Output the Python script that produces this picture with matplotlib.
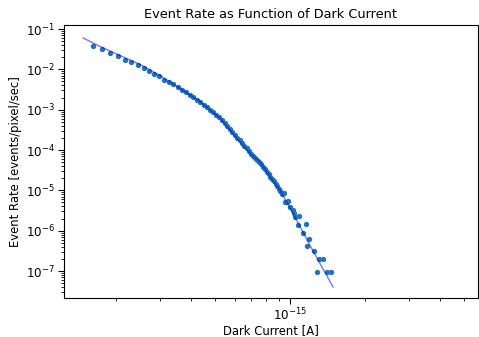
import numpy as np
import matplotlib
matplotlib.use('Agg')
import matplotlib.pyplot as plt

# dark current bins [A] and measured event rate [events/pixel/sec]
current = np.array([
    1.62, 1.757, 1.894, 2.031, 2.168, 2.305, 2.442, 2.579, 2.716, 2.853, 2.99, 3.127,
    3.264, 3.401, 3.538, 3.675, 3.812, 3.949, 4.086, 4.223, 4.36, 4.497, 4.634, 4.771,
    4.908, 5.045, 5.182, 5.319, 5.456, 5.593, 5.73, 5.867, 6.004, 6.141, 6.278, 6.415,
    6.552, 6.689, 6.826, 6.963, 7.10, 7.237, 7.374, 7.511, 7.648, 7.785, 7.922, 8.059,
    8.196, 8.333, 8.47, 8.607, 8.744, 8.881, 9.018, 9.155, 9.292, 9.429, 9.566, 9.703,
    9.84, 9.977, 10.25, 10.39,
    10.47, 10.87, 10.77, 11.59, 11.24, 11.92, 11.70, 12.48, 13.07, 13.53, 12.79, 14.09, 14.57,
]) * 1e-16
rate = np.array([
    3.78e-2, 3.13e-2, 2.54e-2, 2.17e-2, 1.73e-2, 1.49e-2, 1.28e-2, 1.06e-2, 9.08e-3, 7.78e-3, 6.70e-3, 5.42e-3,
    4.90e-3, 4.25e-3, 3.64e-3, 3.16e-3, 2.72e-3, 2.34e-3, 2.08e-3, 1.77e-3, 1.55e-3, 1.34e-3, 1.16e-3, 1.00e-3,
    8.67e-4, 7.52e-4, 6.52e-4, 5.55e-4, 4.65e-4, 3.94e-4, 3.34e-4, 2.84e-4, 2.41e-4, 2.04e-4, 1.74e-4, 1.49e-4,
    1.27e-4, 1.10e-4, 9.45e-5, 8.18e-5, 7.18e-5, 6.33e-5, 5.61e-5, 4.98e-5, 4.40e-5, 3.81e-5, 3.32e-5, 2.88e-5,
    2.51e-5, 2.20e-5, 1.91e-5, 1.66e-5, 1.45e-5, 1.26e-5, 1.11e-5, 9.61e-6, 8.24e-6, 8.5e-6, 5.0e-6, 5.28e-6,
    5.5e-6, 3.90e-6, 3.23e-6, 2.72e-6,
    2.20e-6, 2.29e-6, 1.37e-6, 1.45e-6, 8.53e-7, 6.05e-7, 4.12e-7, 3.15e-7, 2.04e-7, 2.04e-7, 9.5e-8, 9.5e-8, 9.5e-8,
])

# fitted curve
fit_current = np.array([1.476, 1.726, 2.075, 2.50, 3.01, 3.61, 4.36, 5.24, 5.74, 6.30, 6.90,
                        7.59, 8.32, 9.12, 10.0, 10.96, 12.02, 13.18, 14.89]) * 1e-16
fit_rate = np.array([5.98e-2, 3.68e-2, 2.20e-2, 1.315e-2, 6.93e-3, 3.38e-3, 1.57e-3, 6.08e-4, 3.12e-4,
                     1.60e-4, 8.24e-5, 5.01e-5, 2.16e-5, 1.01e-5, 3.61e-6, 1.29e-6, 4.37e-7, 1.56e-7, 4.03e-8])

fig = plt.figure(figsize=(4.79, 3.37), dpi=100)
ax = fig.add_axes([0.1336, 0.1157, 0.8643, 0.8101])

ax.scatter(current, rate, s=8, color='C0')
ax.plot(fit_current, fit_rate, color='b', alpha=0.5, lw=1.1)

ax.set_xscale('log')
ax.set_yscale('log')
ax.set_xlim(1.236e-16, 5.69e-15)
ax.set_ylim(2.14e-8, 0.1257)

ax.set_title('Event Rate as Function of Dark Current', fontsize=9.3, pad=5)
ax.set_xlabel('Dark Current [A]', fontsize=8.4, labelpad=0.5)
ax.set_ylabel('Event Rate [events/pixel/sec]', fontsize=8.4, labelpad=3)
ax.tick_params(labelsize=8.6, pad=2.5)
ax.tick_params(which='major', length=4)
ax.tick_params(which='minor', length=2.2)

fig.savefig('out.png', dpi=100)
